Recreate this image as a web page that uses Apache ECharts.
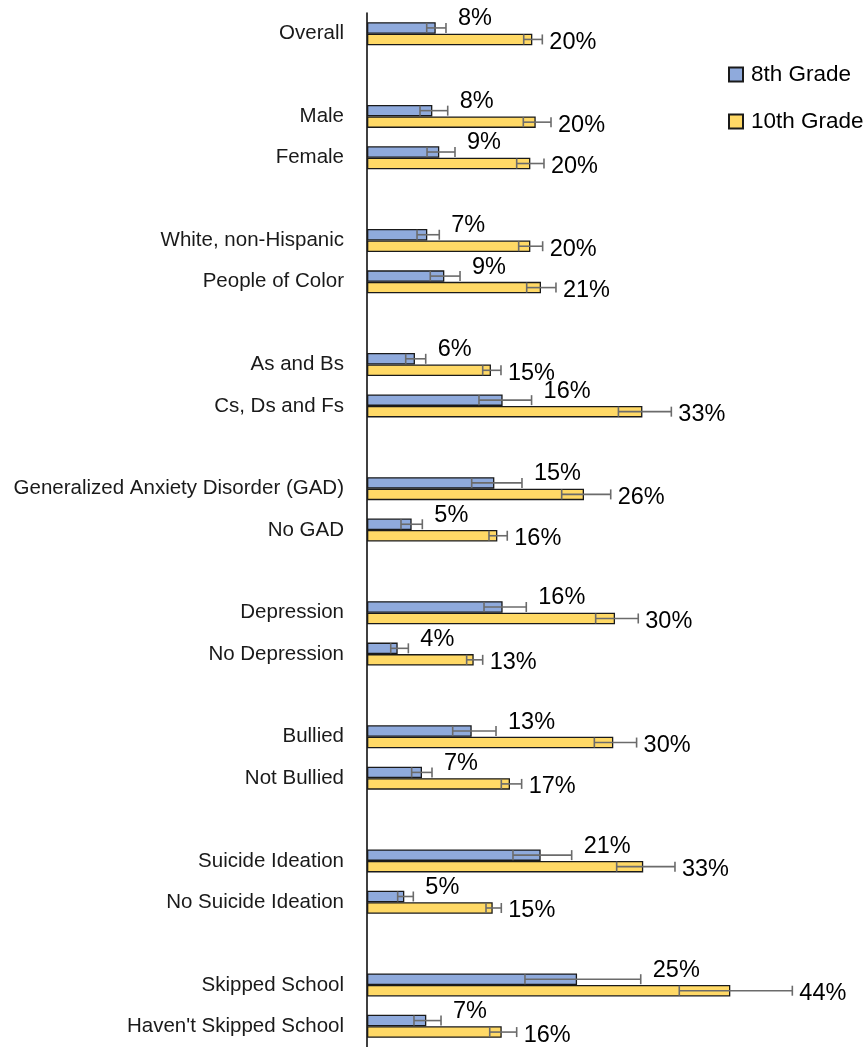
<!DOCTYPE html>
<html>
<head>
<meta charset="utf-8">
<script src="https://cdn.jsdelivr.net/npm/echarts@6/dist/echarts.min.js"></script>
<style>
html,body{margin:0;padding:0;background:#fff;}
#chart{width:867px;height:1047px;}
</style>
</head>
<body>
<div id="chart"></div>
<script>
// Categories (blank entries are spacer rows between groups)
const categories = ['Overall', '', 'Male', 'Female', '', 'White, non-Hispanic', 'People of Color', '',
  'As and Bs', 'Cs, Ds and Fs', '', 'Generalized Anxiety Disorder (GAD)', 'No GAD', '',
  'Depression', 'No Depression', '', 'Bullied', 'Not Bullied', '',
  'Suicide Ideation', 'No Suicide Ideation', '', 'Skipped School', "Haven't Skipped School"];

const seriesNames = ['8th Grade', '10th Grade'];

// Percent values
const grade8  = [8.31, null, 7.9, 8.74, null, 7.29, 9.35, null, 5.8, 16.4, null, 15.4, 5.4, null, 16.4, 3.71, null, 12.66, 6.65, null, 21.0, 4.51, null, 25.4, 7.17];
const low8    = [7.22, null, 6.41, 7.26, null, 6.05, 7.65, null, 4.68, 13.54, null, 12.66, 4.11, null, 14.15, 2.87, null, 10.36, 5.4, null, 17.65, 3.71, null, 19.1, 5.68];
const high8   = [9.55, null, 9.76, 10.64, null, 8.74, 11.25, null, 7.1, 19.9, null, 18.74, 6.69, null, 19.26, 5.0, null, 15.6, 7.86, null, 24.75, 5.6, null, 33.1, 8.95];
const grade10 = [19.99, null, 20.4, 19.75, null, 19.75, 21.04, null, 14.99, 33.3, null, 26.24, 15.76, null, 29.99, 12.9, null, 29.78, 17.29, null, 33.4, 15.2, null, 43.93, 16.29];
const low10   = [18.95, null, 18.9, 18.1, null, 18.34, 19.31, null, 13.99, 30.4, null, 23.54, 14.75, null, 27.65, 12.05, null, 27.49, 16.24, null, 30.19, 14.39, null, 37.76, 14.84];
const high10  = [21.2, null, 22.25, 21.4, null, 21.24, 22.85, null, 16.2, 36.8, null, 29.47, 16.96, null, 32.8, 13.99, null, 32.6, 18.7, null, 37.24, 16.24, null, 51.43, 18.1];

const COLORS = ['#8FAADC', '#FFD966'];
const BAR_W = 11.5;
const FONT = '"Liberation Sans", Arial, sans-serif';

function errData(vals, lo, hi) {
  const out = [];
  vals.forEach((v, i) => { if (v != null) out.push([v, i, lo[i], hi[i]]); });
  return out;
}

function makeErr(name, vals, lo, hi, barOffset, dx, dy) {
  return {
    type: 'custom',
    name: name,
    clip: false,
    z: 5,
    encode: { x: [0, 2, 3], y: 1 },
    data: errData(vals, lo, hi),
    silent: true,
    renderItem: function (params, api) {
      const v = api.value(0), i = api.value(1), l = api.value(2), h = api.value(3);
      const pl = api.coord([l, i]);
      const ph = api.coord([h, i]);
      const y = pl[1] + barOffset;
      const cap = 5;
      const st = { stroke: '#6b6b6b', lineWidth: 1.6 };
      return {
        type: 'group',
        children: [
          { type: 'line', shape: { x1: pl[0], y1: y, x2: ph[0], y2: y }, style: st },
          { type: 'line', shape: { x1: pl[0], y1: y - cap, x2: pl[0], y2: y + cap }, style: st },
          { type: 'line', shape: { x1: ph[0], y1: y - cap, x2: ph[0], y2: y + cap }, style: st },
          { type: 'text', style: {
              text: Math.round(v) + '%', x: ph[0] + dx, y: y + dy,
              fill: '#000', font: '23.5px ' + FONT,
              align: 'left', verticalAlign: 'middle' } }
        ]
      };
    }
  };
}

const chart = echarts.init(document.getElementById('chart'));
chart.setOption({
  animation: false,
  backgroundColor: '#fff',
  legend: {
    data: seriesNames,
    orient: 'vertical',
    left: 723,
    top: 58,
    icon: 'rect',
    itemWidth: 14,
    itemHeight: 14,
    itemGap: 24,
    textStyle: { fontFamily: FONT, fontSize: 22.5, color: '#000', lineHeight: 22, padding: [0, 0, 0, 3] }
  },
  grid: { left: 367, top: 13, width: 413.5, height: 1036.4 },
  xAxis: { type: 'value', min: 0, max: 50, show: false },
  yAxis: {
    type: 'category',
    data: categories,
    inverse: true,
    axisLine: { show: true, lineStyle: { color: '#000', width: 1.5 } },
    axisTick: { show: false },
    axisLabel: { fontFamily: FONT, fontSize: 20.5, color: '#1a1a1a', margin: 23, interval: 0, padding: [4, 0, 0, 0] },
    splitLine: { show: false }
  },
  series: [
    { type: 'bar', name: seriesNames[0], data: grade8, barWidth: BAR_W, barGap: '0%',
      itemStyle: { color: COLORS[0], borderColor: '#1a1a1a', borderWidth: 1.3 } },
    { type: 'bar', name: seriesNames[1], data: grade10, barWidth: BAR_W, barGap: '0%',
      itemStyle: { color: COLORS[1], borderColor: '#1a1a1a', borderWidth: 1.3 } },
    makeErr('err8', grade8, low8, high8, -BAR_W / 2, 12, -9),
    makeErr('err10', grade10, low10, high10, BAR_W / 2, 7, 3)
  ]
});
</script>
</body>
</html>
